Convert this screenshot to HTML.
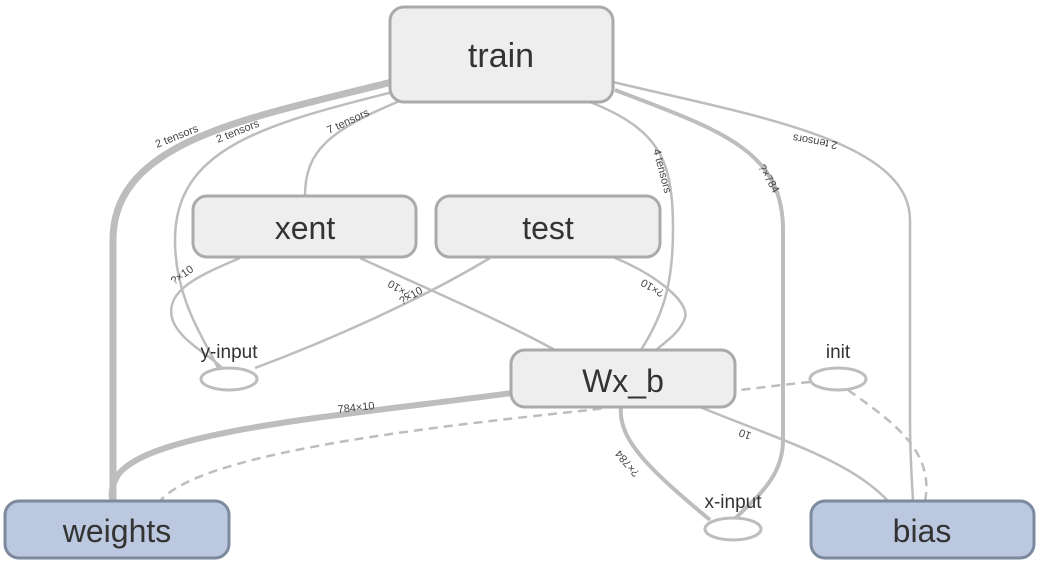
<!DOCTYPE html>
<html><head><meta charset="utf-8"><style>
html,body{margin:0;padding:0;background:#fff;}
svg{display:block;}
text{font-family:"Liberation Sans",sans-serif;fill:#333;}
.e{fill:none;stroke:#bdbdbd;stroke-width:2.5;}
.d{fill:none;stroke:#bdbdbd;stroke-width:2.5;stroke-dasharray:9 6;}
.l{font-size:11px;fill:#444;}
</style></head><body>
<svg width="1042" height="563" viewBox="0 0 1042 563">
<path class="e" style="stroke-width:7" d="M392,82 C250,118 113,140 113,240 L113,502"/>
<path class="e" d="M393,92 C260,125 175,150 175,240 C175,300 205,340 218,368"/>
<path class="e" d="M402,100 C330,130 305,150 305,196"/>
<path class="e" d="M240,258 C200,275 165,290 172,318 C178,340 210,355 222,368"/>
<path class="e" d="M490,258 C420,300 330,340 255,368"/>
<path class="e" d="M360,258 C430,290 500,320 555,350"/>
<path class="e" d="M615,258 C650,272 690,300 685,318 C680,332 668,340 656,350"/>
<path class="e" d="M590,102 C660,130 673,160 673,230 C673,290 660,320 641,350"/>
<path class="e" style="stroke-width:4" d="M615,90 C720,130 783,150 783,230 L783,440 C783,480 752,500 735,519"/>
<path class="e" d="M613,82 C750,115 910,140 910,220 L910,420 C910,460 912,480 913,501"/>
<path class="e" style="stroke-width:4" d="M621,407 C618,440 650,470 710,520"/>
<path class="e" d="M700,407 C780,440 850,460 888,501"/>
<path class="e" style="stroke-width:6" d="M512,393 C350,415 150,430 118,475 C112,485 110,495 113,502"/>
<path class="d" d="M810,382 C750,388 650,402 590,410 C400,430 200,455 160,501"/>
<path class="d" d="M848,390 C890,420 935,450 925,501"/>
<text class="l" transform="translate(157,148) rotate(-22)">2 tensors</text>
<text class="l" transform="translate(218,143) rotate(-22)">2 tensors</text>
<text class="l" transform="translate(329,134) rotate(-25)">7 tensors</text>
<text class="l" transform="translate(174,285) rotate(-35)">?×10</text>
<text class="l" transform="translate(402,305) rotate(-30)">?×10</text>
<text class="l" transform="translate(412,292) rotate(210)">?×10</text>
<text class="l" transform="translate(665,291) rotate(210)">?×10</text>
<text class="l" transform="translate(653,150) rotate(75)">4 tensors</text>
<text class="l" transform="translate(758,167) rotate(60)">?×784</text>
<text class="l" transform="translate(838,142) rotate(190)">2 tensors</text>
<text class="l" transform="translate(338,413) rotate(-6)">784×10</text>
<text class="l" transform="translate(752,433) rotate(200)">10</text>
<text class="l" transform="translate(640,473) rotate(230)">?×784</text>
<rect x="390" y="7" width="223" height="95" rx="14" fill="#eeeeee" stroke="#aaaaaa" stroke-width="3"/>
<text x="501" y="67" font-size="34" text-anchor="middle">train</text>
<rect x="193" y="196" width="223" height="61" rx="14" fill="#eeeeee" stroke="#aaaaaa" stroke-width="3"/>
<text x="305" y="239" font-size="32" text-anchor="middle">xent</text>
<rect x="436" y="196" width="224" height="61" rx="14" fill="#eeeeee" stroke="#aaaaaa" stroke-width="3"/>
<text x="548" y="239" font-size="32" text-anchor="middle">test</text>
<rect x="511" y="350" width="224" height="57" rx="14" fill="#eeeeee" stroke="#aaaaaa" stroke-width="3"/>
<text x="623" y="392" font-size="32" text-anchor="middle">Wx_b</text>
<rect x="5" y="501" width="224" height="57" rx="14" fill="#bcc8df" stroke="#7d899e" stroke-width="3"/>
<text x="117" y="542" font-size="32" text-anchor="middle">weights</text>
<rect x="811" y="501" width="223" height="57" rx="14" fill="#bcc8df" stroke="#7d899e" stroke-width="3"/>
<text x="922" y="542" font-size="32" text-anchor="middle">bias</text>
<ellipse cx="229" cy="379" rx="28" ry="11" fill="#fff" stroke="#bdbdbd" stroke-width="3"/>
<text x="229" y="358" font-size="19" text-anchor="middle">y-input</text>
<ellipse cx="838" cy="379" rx="28" ry="11" fill="#fff" stroke="#bdbdbd" stroke-width="3"/>
<text x="838" y="358" font-size="19" text-anchor="middle">init</text>
<ellipse cx="733" cy="529" rx="28" ry="11" fill="#fff" stroke="#bdbdbd" stroke-width="3"/>
<text x="733" y="508" font-size="19" text-anchor="middle">x-input</text>
</svg>
</body></html>
